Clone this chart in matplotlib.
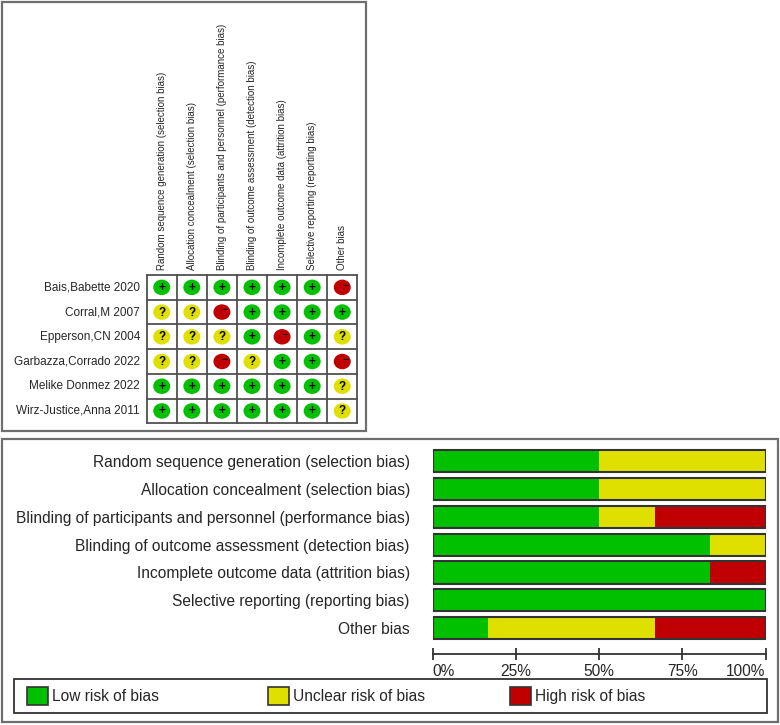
import matplotlib
matplotlib.use('Agg')
import matplotlib.pyplot as plt
from matplotlib.patches import Ellipse, Rectangle
import numpy as np

plt.rcParams['font.family'] = ['Liberation Sans', 'DejaVu Sans']

studies = ["Bais,Babette 2020", "Corral,M 2007", "Epperson,CN 2004",
           "Garbazza,Corrado 2022", "Melike Donmez 2022", "Wirz-Justice,Anna 2011"]
domains = ["Random sequence generation (selection bias)",
           "Allocation concealment (selection bias)",
           "Blinding of participants and personnel (performance bias)",
           "Blinding of outcome assessment (detection bias)",
           "Incomplete outcome data (attrition bias)",
           "Selective reporting (reporting bias)",
           "Other bias"]
judgements = [
    ["+", "+", "+", "+", "+", "+", "-"],
    ["?", "?", "-", "+", "+", "+", "+"],
    ["?", "?", "?", "+", "-", "+", "?"],
    ["?", "?", "-", "?", "+", "+", "-"],
    ["+", "+", "+", "+", "+", "+", "?"],
    ["+", "+", "+", "+", "+", "+", "?"],
]
levels = ["+", "?", "-"]
legend_labels = ["Low risk of bias", "Unclear risk of bias", "High risk of bias"]
tick_values = [0, 25, 50, 75, 100]
tick_labels = ["0%", "25%", "50%", "75%", "100%"]

colors = {"+": "#00C000", "?": "#E0E000", "-": "#C00000"}
symbols = {"+": "+", "?": "?", "-": "\u2212"}

W, H = 780, 725
fig = plt.figure(figsize=(W / 100, H / 100), dpi=100)


def ax_at(x0, y0, x1, y1):
    return fig.add_axes([x0 / W, 1 - y1 / H, (x1 - x0) / W, (y1 - y0) / H])


def fig_rect(x0, y0, x1, y1, **kw):
    r = Rectangle((x0 / W, 1 - y1 / H), (x1 - x0) / W, (y1 - y0) / H,
                  transform=fig.transFigure, **kw)
    fig.patches.append(r)
    return r


text_col = "#262626"
# panel frames
fig_rect(2, 2, 366, 431, fill=False, ec="#6e6e6e", lw=1.6)
fig_rect(2, 439, 778, 722, fill=False, ec="#6e6e6e", lw=1.6)

# ---------- summary grid ----------
gx0, gy0, gx1, gy1 = 146.7, 275, 357.3, 423.3
ax = ax_at(gx0, gy0, gx1, gy1)
ncol, nrow = len(domains), len(studies)
ax.set_xlim(0, ncol)
ax.set_ylim(nrow, 0)
ax.axis("off")
cw = (gx1 - gx0) / ncol
rh = (gy1 - gy0) / nrow
for j in range(ncol + 1):
    ax.plot([j, j], [0, nrow], color="#505050", lw=1.3, clip_on=False,
            solid_capstyle="projecting")
for i in range(nrow + 1):
    ax.plot([0, ncol], [i, i], color="#505050", lw=1.3, clip_on=False,
            solid_capstyle="projecting")
for i, row in enumerate(judgements):
    for j, v in enumerate(row):
        ax.add_patch(Ellipse((j + 0.5, i + 0.5), 17 / cw, 15.5 / rh,
                             color=colors[v], lw=0))
        if v == "-":
            ax.text(j + 0.5 + 0.1, i + 0.5 - 0.07, symbols[v], ha="center",
                    va="center", fontsize=8, fontweight="bold", color="#2a0000")
        else:
            ax.text(j + 0.5, i + 0.52, symbols[v], ha="center", va="center",
                    fontsize=8.5, fontweight="bold", color="#000000")
for i, s in enumerate(studies):
    ax.text(-6.7 / cw, i + 0.5, s, ha="right", va="center", fontsize=8.5,
            color=text_col)
for j, d in enumerate(domains):
    ax.text(j + 0.5, -5 / rh, d, rotation=90, ha="center", va="bottom",
            fontsize=7, color=text_col)

# ---------- stacked bar chart ----------
counts = {lv: np.array([sum(1 for r in judgements if r[j] == lv)
                        for j in range(ncol)], dtype=float) for lv in levels}
total = np.array([len(judgements)] * ncol, dtype=float)
pct = {lv: counts[lv] / total * 100 for lv in levels}

bx = ax_at(432.7, 446.84, 765.7, 654)
ypos = np.arange(ncol)
left = np.zeros(ncol)
for lv in levels:
    bx.barh(ypos, pct[lv], left=left, height=0.79, color=colors[lv], lw=0)
    left += pct[lv]
bx.barh(ypos, left, height=0.79, fill=False, edgecolor="#333333", lw=1.5)
bx.set_xlim(0, 100)
bx.set_ylim(6.92, -0.5)
for sp in ["top", "left", "right"]:
    bx.spines[sp].set_visible(False)
bx.spines["bottom"].set_color("#333333")
bx.spines["bottom"].set_linewidth(1.3)
bx.set_xticks(tick_values)
bx.set_xticklabels(tick_labels, fontsize=11.2, color=text_col)
bx.tick_params(axis="x", direction="inout", length=8, width=1.3,
               color="#333333", pad=3)
tl = bx.get_xticklabels()
tl[0].set_ha("left")
tl[-1].set_ha("right")
bx.set_yticks(ypos)
bx.set_yticklabels(domains, fontsize=11.2, color=text_col)
bx.tick_params(axis="y", length=0, pad=16.5)
bx.set_facecolor("none")

# ---------- legend ----------
fig_rect(14.3, 679, 766.7, 713.3, fill=False, ec="#333333", lw=1.3)
leg_x = [26.7, 268.3, 510]
for lx, lv, lab in zip(leg_x, levels, legend_labels):
    fig_rect(lx, 686.7, lx + 21, 705.3, fc=colors[lv], ec="#333333", lw=1.2)
    fig.text((lx + 25) / W, 1 - 696.5 / H, lab, ha="left", va="center",
             fontsize=11.2, color=text_col)

fig.savefig("out.png", dpi=100)
